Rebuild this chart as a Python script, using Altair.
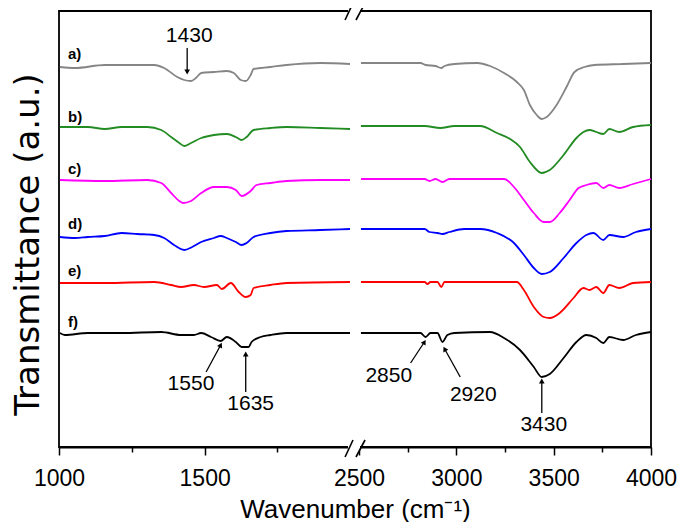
import altair as alt
import pandas as pd

# ---------------- data ----------------
series_names = ["a", "b", "c", "d", "e", "f"]
series_colors = ["#858585", "#228b22", "#ff00ff", "#0000ff", "#ff0000", "#000000"]

a_left_w = [1003, 1055, 1157, 1327, 1361, 1406, 1430, 1453, 1470, 1488, 1532, 1576, 1600, 1624, 1641, 1658, 1668, 1726, 1781, 1897, 1999]
a_left_t = [380, 379, 382, 382, 379, 370, 367, 366, 369, 374, 375, 376, 374, 367, 366, 372, 378, 380, 382, 384, 383]
a_right_w = [2510, 2816, 2842, 2893, 2923, 2939, 2990, 3107, 3173, 3245, 3311, 3347, 3378, 3413, 3439, 3464, 3515, 3566, 3607, 3658, 3709, 3857, 4000]
a_right_t = [384, 384, 382, 381, 379, 381, 383, 384, 381, 374, 365, 357, 342, 332, 328, 330, 342, 360, 375, 380, 382, 383, 384]

b_left_w = [1003, 1099, 1157, 1215, 1303, 1351, 1385, 1413, 1430, 1453, 1488, 1532, 1576, 1607, 1627, 1644, 1668, 1726, 1781, 1897, 1999]
b_left_t = [320, 320, 318, 320, 320, 317, 310, 304, 301, 304, 309, 312, 313, 310, 307, 310, 317, 319, 320, 319, 318]
b_right_w = [2510, 2837, 2918, 2990, 3122, 3209, 3276, 3327, 3378, 3439, 3480, 3551, 3617, 3653, 3684, 3719, 3755, 3786, 3837, 3908, 4000]
b_right_t = [321, 321, 319, 321, 321, 314, 308, 300, 285, 274, 277, 292, 309, 315, 317, 315, 313, 318, 315, 320, 322]

c_left_w = [1003, 1157, 1303, 1351, 1385, 1413, 1426, 1453, 1488, 1532, 1576, 1607, 1627, 1658, 1678, 1726, 1781, 1897, 1999]
c_left_t = [267, 266, 267, 264, 254, 246, 244, 246, 254, 260, 260, 257, 251, 256, 262, 264, 266, 267, 267]
c_right_w = [2510, 2837, 2862, 2893, 2929, 2964, 3245, 3296, 3347, 3398, 3449, 3480, 3531, 3582, 3628, 3668, 3719, 3755, 3786, 3837, 3908, 4000]
c_right_t = [268, 268, 266, 268, 265, 268, 268, 260, 247, 234, 225, 225, 234, 247, 259, 262, 264, 259, 262, 259, 263, 268]

d_left_w = [1003, 1055, 1099, 1157, 1215, 1269, 1327, 1361, 1395, 1430, 1457, 1488, 1532, 1555, 1576, 1607, 1627, 1644, 1668, 1726, 1781, 1897, 1999]
d_left_t = [210, 209, 210, 211, 214, 213, 212, 209, 202, 197, 200, 205, 209, 211, 209, 205, 202, 204, 210, 214, 216, 217, 218]
d_right_w = [2510, 2837, 2862, 2903, 2929, 2964, 3041, 3122, 3209, 3296, 3347, 3398, 3439, 3480, 3551, 3617, 3668, 3704, 3755, 3786, 3857, 3923, 4000]
d_right_t = [218, 218, 215, 214, 213, 215, 218, 218, 214, 204, 192, 179, 173, 175, 189, 204, 212, 214, 207, 212, 210, 215, 218]

e_left_w = [1003, 1157, 1327, 1385, 1419, 1463, 1498, 1542, 1559, 1590, 1617, 1641, 1658, 1668, 1726, 1781, 1999]
e_left_t = [164, 164, 165, 162, 160, 162, 160, 162, 158, 164, 155, 150, 152, 159, 162, 164, 165]
e_right_w = [2510, 2837, 2852, 2867, 2903, 2923, 2939, 3005, 3311, 3347, 3398, 3449, 3480, 3531, 3602, 3653, 3684, 3719, 3755, 3786, 3837, 3908, 4000]
e_right_t = [165, 165, 163, 165, 165, 160, 165, 165, 165, 157, 140, 130, 129, 134, 149, 159, 157, 160, 154, 162, 159, 164, 165]

f_left_w = [1003, 1020, 1099, 1215, 1351, 1419, 1463, 1488, 1522, 1555, 1576, 1607, 1627, 1651, 1661, 1692, 1726, 1781, 1999]
f_left_t = [114, 112, 114, 114, 115, 112, 112, 114, 110, 106, 110, 105, 100, 100, 105, 110, 112, 114, 114]
f_right_w = [2510, 2816, 2842, 2867, 2903, 2929, 2954, 2990, 3173, 3245, 3327, 3398, 3439, 3480, 3551, 3617, 3668, 3719, 3755, 3786, 3857, 3923, 4000]
f_right_t = [114, 114, 110, 114, 114, 105, 112, 114, 115, 109, 97, 80, 70, 73, 89, 105, 112, 109, 104, 110, 107, 112, 115]

sample_labels = ["a)", "b)", "c)", "d)", "e)", "f)"]
sample_label_w = [1031, 1031, 1031, 1031, 1031, 1031]
sample_label_t = [393, 330, 278, 223, 176, 125]

peak_text = ["1430", "1550", "1635", "2850", "2920", "3430"]
peak_label_w = [1447, 1453, 1658, 2653, 3087, 3449]
peak_label_t = [411, 63, 43, 71, 52, 22]
arrow_from_w = [1440, 1505, 1641, 2765, 3020, 3439]
arrow_from_t = [399, 75, 55, 84, 70, 34]
arrow_to_w = [1440, 1555, 1641, 2836, 2940, 3439]
arrow_to_t = [375, 102, 93, 105, 98, 66]
arrow_angle = [180, 27, 0, 31, 332, 0]

x_ticks = [1000, 1250, 1500, 1750, 2500, 2750, 3000, 3250, 3500, 3750, 4000]
x_minor = [1250, 1750, 2750, 3250, 3750]

# axis break decoration (in data units)
break_x = [1982, 2328]
break_x2 = [2155, 2531]
gap_x, gap_x2 = 1992, 2505

# ---------------- build tables ----------------
spectra = {
    "a": [(a_left_w, a_left_t), (a_right_w, a_right_t)],
    "b": [(b_left_w, b_left_t), (b_right_w, b_right_t)],
    "c": [(c_left_w, c_left_t), (c_right_w, c_right_t)],
    "d": [(d_left_w, d_left_t), (d_right_w, d_right_t)],
    "e": [(e_left_w, e_left_t), (e_right_w, e_right_t)],
    "f": [(f_left_w, f_left_t), (f_right_w, f_right_t)],
}
rows = []
for s, segs in spectra.items():
    for k, (ws, ts) in enumerate(segs):
        for w, t in zip(ws, ts):
            rows.append({"w": w, "t": t, "s": s, "seg": f"{s}{k}"})
df = pd.DataFrame(rows)

lab_df = pd.DataFrame({"w": sample_label_w, "t": sample_label_t, "label": sample_labels})
peak_df = pd.DataFrame({
    "w": peak_label_w, "t": peak_label_t, "label": peak_text,
    "fw": arrow_from_w, "ft": arrow_from_t, "tw": arrow_to_w, "tt": arrow_to_t,
    "ang": arrow_angle,
})
brk_rows = []
for lo, hi in [(-10, 7), (427, 444)]:
    for x1, x2 in zip(break_x, break_x2):
        brk_rows.append({"w": x1, "w2": x2, "t": lo, "t2": hi})
brk_df = pd.DataFrame(brk_rows)
gap_df = pd.DataFrame({"w": [gap_x, gap_x], "w2": [gap_x2, gap_x2], "t": [-4, 432], "t2": [4, 440]})

# ---------------- scales & axes ----------------
FONT = "Liberation Sans"
xs = alt.Scale(domain=[1000, 2000, 2500, 4000], range=[0, 291.3, 300, 592])
ys = alt.Scale(domain=[0, 436])

minor_test = "indexof([" + ",".join(str(v) for v in x_minor) + "], datum.value) >= 0"
x_axis = alt.Axis(
    values=x_ticks, format="d",
    labelExpr=f"{minor_test} ? '' : datum.label",
    labelFlush=False, labelOverlap=False, labelAlign="center", labelBound=False,
    tickSize={"condition": {"test": minor_test, "value": 5}, "value": 8},
    tickWidth=1.5, tickColor="black", domainColor="black", domainWidth=1.8,
    labelFont=FONT, labelFontSize=23, labelColor="black", labelPadding=12,
    grid=False,
    title="Wavenumber (cm⁻¹)", titleFont=FONT, titleFontSize=26,
    titleFontWeight="normal", titleColor="black",
    titleBaseline="alphabetic", titleY=70,
)
y_axis = alt.Axis(
    title="Transmittance (a.u.)", labels=False, ticks=False, domain=False, grid=False,
    titleFont="DejaVu Sans", titleFontSize=34, titleFontWeight="normal",
    titleColor="black", titleAngle=270, titleX=-21, titleY=233,
    titleBaseline="alphabetic", titleAlign="center",
)

X = lambda f: alt.X(f, type="quantitative", scale=xs, axis=x_axis)
Y = lambda f: alt.Y(f, type="quantitative", scale=ys, axis=y_axis)

gap = alt.Chart(gap_df).mark_rect(color="white").encode(
    x=X("w"), x2="w2", y=Y("t"), y2="t2")

lines = alt.Chart(df).mark_line(strokeWidth=1.8, interpolate="monotone").encode(
    x=X("w"), y=Y("t"),
    color=alt.Color("s:N", scale=alt.Scale(domain=series_names, range=series_colors), legend=None),
    detail="seg:N",
)

labels = alt.Chart(lab_df).mark_text(
    align="left", baseline="middle", font=FONT, fontSize=15, fontWeight="bold", color="black"
).encode(x=X("w"), y=Y("t"), text="label:N")

arrows = alt.Chart(peak_df).mark_rule(strokeWidth=1.3, color="black").encode(
    x=X("fw"), x2="tw", y=Y("ft"), y2="tt")

heads = alt.Chart(peak_df).mark_point(
    shape="triangle-up", filled=True, size=32, color="black", opacity=1
).encode(x=X("tw"), y=Y("tt"), angle=alt.Angle("ang:Q", scale=None))

peak_labels = alt.Chart(peak_df).mark_text(
    align="center", baseline="middle", font=FONT, fontSize=21, color="black"
).encode(x=X("w"), y=Y("t"), text="label:N")

breaks = alt.Chart(brk_df).mark_rule(strokeWidth=1.6, color="black").encode(
    x=X("w"), x2="w2", y=Y("t"), y2="t2")

chart = alt.layer(gap, lines, labels, arrows, heads, peak_labels, breaks).properties(
    width=592, height=436,
    autosize=alt.AutoSizeParams(type="none"),
    padding={"left": 51, "top": 3, "right": 26, "bottom": 75},
    background="white",
).configure_view(stroke="black", strokeWidth=1.8)

chart.save("out.html", embed_options={"renderer": "svg", "actions": False})
